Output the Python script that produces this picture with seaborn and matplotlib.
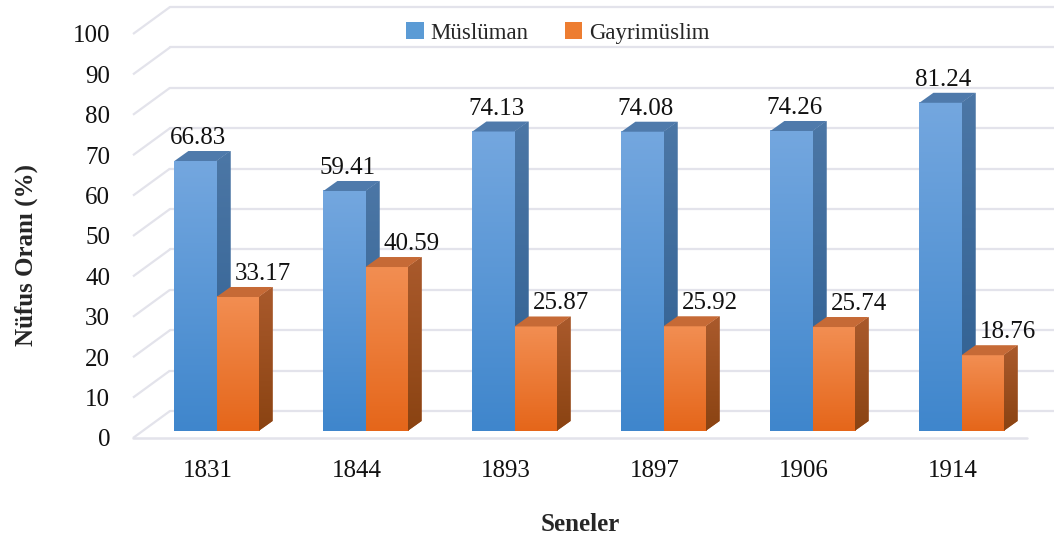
import numpy as np
import pandas as pd
import matplotlib
matplotlib.use("Agg")
import matplotlib.pyplot as plt
import seaborn as sns
from matplotlib.patches import Polygon, Patch
from matplotlib.colors import LinearSegmentedColormap

# ---- data ----
years = ["1831", "1844", "1893", "1897", "1906", "1914"]
muslim = [66.83, 59.41, 74.13, 74.08, 74.26, 81.24]
non_muslim = [33.17, 40.59, 25.87, 25.92, 25.74, 18.76]
series = ["Müslüman", "Gayrimüslim"]
yticks = list(range(0, 101, 10))

df = pd.DataFrame({
    "Sene": years * 2,
    "Oran": muslim + non_muslim,
    "Grup": [series[0]] * len(years) + [series[1]] * len(years),
})

# ---- style ----
legend_cols = ["#5B9BD5", "#ED7D31"]
front_grad = [("#3F86CC", "#74A7DF"), ("#E5661A", "#F28E52")]   # (bottom, top)
side_grad = [("#2E5E90", "#4C77A6"), ("#8A4312", "#AA5A2C")]
top_cols = ["#4F7AAB", "#C66A36"]
grid_col = "#E3E3EB"

sns.set_theme(style="white")
plt.rcParams["font.family"] = ["Liberation Serif", "DejaVu Serif"]

W, H = 1054, 539
fig = plt.figure(figsize=(W / 100, H / 100), dpi=100)
x_l, x_r, y_b, y_t = 133, 1027, 438, 34
ax = fig.add_axes([x_l / W, (H - y_b) / H, (x_r - x_l) / W, (y_b - y_t) / H])

sns.barplot(data=df, x="Sene", y="Oran", hue="Grup", palette=legend_cols,
            width=0.565, dodge=True, errorbar=None, legend=False, ax=ax,
            saturation=1)
ax.set_xlim(-0.5, len(years) - 0.5)
ax.set_ylim(0, 100)

# pixel -> data conversion
p0 = ax.transData.transform((0, 0))
p1 = ax.transData.transform((1, 1))
sx, sy = p1[0] - p0[0], p1[1] - p0[1]
def px(dx, dy):
    return dx / sx, dy / sy

front_off = px(9, 7)
depth = px(14, 10)
wall = px(37, 27)

# ---- walls / gridlines ----
xl, xr = ax.get_xlim()
for v in yticks:
    ax.plot([xl, xl + wall[0]], [v, v + wall[1]], color=grid_col, lw=1.6,
            zorder=0.5, clip_on=False, solid_capstyle="butt")
    ax.plot([xl + wall[0], xr + wall[0]], [v + wall[1], v + wall[1]],
            color=grid_col, lw=1.6, zorder=0.5, clip_on=False)
ax.plot([xl, xr], [0, 0], color=grid_col, lw=1.8, zorder=0.6, clip_on=False)

grad = np.linspace(0, 1, 256).reshape(-1, 1)

n = len(years)
for i, patch in enumerate(ax.patches[: 2 * n]):
    h_idx = i // n
    z = 2 + h_idx
    x0 = patch.get_x() + front_off[0]
    w = patch.get_width()
    hgt = patch.get_height()
    y0 = front_off[1]
    y1 = y0 + hgt
    x1 = x0 + w
    patch.set_x(x0)
    patch.set_y(y0)
    patch.set_zorder(z)
    patch.set_edgecolor("none")
    # front gradient
    cmap = LinearSegmentedColormap.from_list("f", front_grad[h_idx])
    ax.imshow(grad, extent=[x0, x1, y0, y1], origin="lower", cmap=cmap,
              aspect="auto", zorder=z + 0.01, interpolation="bilinear")
    # side face
    side = Polygon([(x1, y0), (x1 + depth[0], y0 + depth[1]),
                    (x1 + depth[0], y1 + depth[1]), (x1, y1)],
                   closed=True, facecolor=side_grad[h_idx][1], edgecolor="none",
                   zorder=z, transform=ax.transData)
    ax.add_patch(side)
    cmap_s = LinearSegmentedColormap.from_list("s", side_grad[h_idx])
    im = ax.imshow(grad, extent=[x1, x1 + depth[0], y0, y1 + depth[1]],
                   origin="lower", cmap=cmap_s, aspect="auto", zorder=z + 0.01,
                   interpolation="bilinear")
    im.set_clip_path(side)
    # top face
    top = Polygon([(x0, y1), (x1, y1), (x1 + depth[0], y1 + depth[1]),
                   (x0 + depth[0], y1 + depth[1])], closed=True,
                  facecolor=top_cols[h_idx], edgecolor="none", zorder=z + 0.02)
    ax.add_patch(top)
    # value label
    lab_dx = px(3, 0)[0] if h_idx == 0 else px(25, 0)[0]
    ax.text((x0 + x1) / 2 + lab_dx, hgt + px(0, 24)[1], f"{hgt:.2f}",
            ha="center", va="baseline", fontsize=18, color="#111111",
            zorder=10, clip_on=False)

ax.set_xlim(xl, xr)
ax.set_ylim(0, 100)

# ---- axes cosmetics ----
for s in ax.spines.values():
    s.set_visible(False)
ax.set_yticks(yticks)
ax.set_yticklabels([str(t) for t in yticks], fontsize=18, color="#111111")
ax.set_xticks(range(n))
ax.set_xticklabels(years, fontsize=18, color="#111111")
ax.tick_params(axis="y", length=0, pad=16.5)
ax.tick_params(axis="x", length=0, pad=16)
ax.set_xlabel("Seneler", fontsize=18, fontweight="bold", labelpad=22)
ax.set_ylabel("Nüfus Oranı (%)", fontsize=18, fontweight="bold")
ax.yaxis.set_label_coords((38 - x_l) / (x_r - x_l), (y_b - 255) / (y_b - y_t))

handles = [Patch(facecolor=c, edgecolor="none") for c in legend_cols]
fig.legend(handles, series, loc="center", bbox_to_anchor=(558 / W, 1 - 33 / H),
           ncol=2, frameon=False, fontsize=16.5, handlelength=0.75,
           handleheight=0.75, handletextpad=0.3, columnspacing=1.6)

fig.savefig("out.png", dpi=100)
